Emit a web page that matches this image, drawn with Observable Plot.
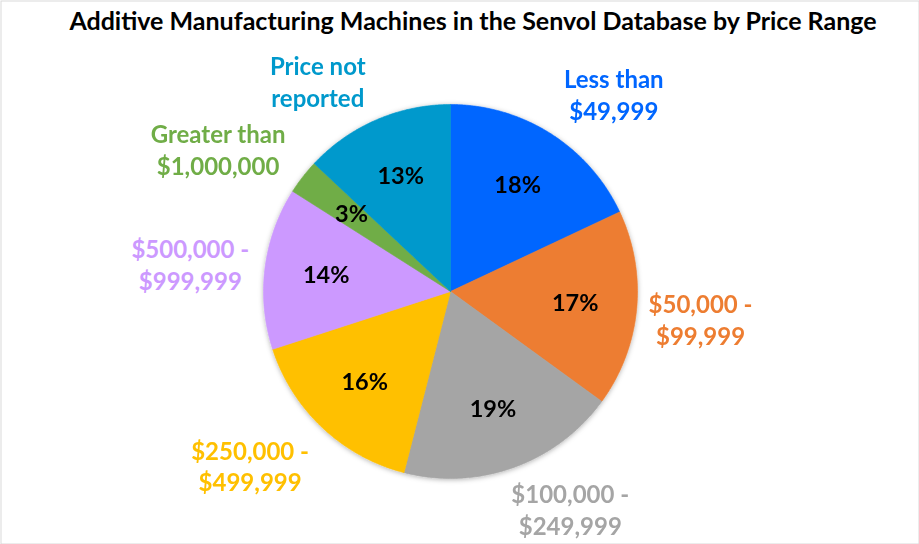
<!DOCTYPE html>
<html>
<head>
<meta charset="utf-8">
<script src="https://cdn.jsdelivr.net/npm/d3@7"></script>
<script src="https://cdn.jsdelivr.net/npm/@observablehq/plot@0.6"></script>
<style>
  html, body { margin: 0; padding: 0; background: #fff; }
</style>
</head>
<body>
<div id="chart"></div>
<script>
// ---- data ----
const title = "Additive Manufacturing Machines in the Senvol Database by Price Range";
const categories = [
  "Less than\n$49,999",
  "$50,000 -\n$99,999",
  "$100,000 -\n$249,999",
  "$250,000 -\n$499,999",
  "$500,000 -\n$999,999",
  "Greater than\n$1,000,000",
  "Price not\nreported"
];
const shares = [18, 17, 19, 16, 14, 3, 13];
const colors = ["#0066FF", "#ED7D31", "#A5A5A5", "#FFC000", "#CC99FF", "#70AD47", "#0099CC"];

// ---- layout ----
const W = 919, H = 544;
const cx = 450, cy = 291, R = 187;
const pctRadius = 0.67;
const outRadius = 1.37;
const labelNudge = [[26, 19], [-5, 3], [33, -24], [-25, -13], [-6, 4], [-30, 14], [-31, 24]];

const rows = categories.map((c, i) => ({category: c, share: shares[i]}));
const arcs = d3.pie().sort(null).value(d => d.share)(rows);
const pt = (a, r) => [cx + r * Math.sin(a), cy - r * Math.cos(a)];

const slices = arcs.map(a => {
  const n = Math.max(2, Math.ceil((a.endAngle - a.startAngle) / (Math.PI / 360)));
  const ring = [[cx, cy]];
  for (let k = 0; k <= n; k++) ring.push(pt(a.startAngle + (a.endAngle - a.startAngle) * k / n, R));
  ring.push([cx, cy]);
  return {category: a.data.category, ring};
});

const pctLabels = arcs.map(a => {
  const m = (a.startAngle + a.endAngle) / 2;
  const [x, y] = pt(m, R * pctRadius);
  return {x, y, text: a.data.share + "%"};
});
const catLabels = arcs.map((a, i) => {
  const m = (a.startAngle + a.endAngle) / 2;
  const [x, y] = pt(m, R * outRadius);
  return {x: x + labelNudge[i][0], y: y + labelNudge[i][1], category: a.data.category};
});

const marks = [Plot.frame({stroke: "#d9d9d9", inset: 0.5})];
slices.forEach((s, i) => {
  marks.push(Plot.line(s.ring.map(([x, y]) => ({x, y})),
    {x: "x", y: "y", fill: colors[i], stroke: colors[i], strokeWidth: 0.6}));
});
marks.push(
  Plot.text(pctLabels, {x: "x", y: "y", text: "text", fill: "#000", fontSize: 23.5, fontWeight: "bold"}),
  Plot.text(catLabels, {x: "x", y: "y", text: "category", fill: "category", fontSize: 24, fontWeight: "bold", lineHeight: 1.33, textAnchor: "middle", lineAnchor: "middle"}),
  Plot.text([title], {frameAnchor: "top", dx: 13, dy: 12, fontSize: 25, fontWeight: "bold", fill: "#000"})
);

const chart = Plot.plot({
  width: W,
  height: H,
  margin: 0,
  x: {domain: [0, W], range: [0, W], axis: null},
  y: {domain: [0, H], range: [0, H], axis: null},
  color: {domain: categories, range: colors},
  style: {fontFamily: "Lato, 'Open Sans', sans-serif"},
  marks
});

// soft drop shadow under the pie, like the original
const ns = "http://www.w3.org/2000/svg";
const defs = document.createElementNS(ns, "defs");
defs.innerHTML = '<filter id="pieShadow" x="-20%" y="-20%" width="140%" height="140%"><feDropShadow dx="0" dy="1" stdDeviation="2.5" flood-color="#000" flood-opacity="0.3"/></filter>';
chart.insertBefore(defs, chart.firstChild);
const lineGroups = Array.from(chart.querySelectorAll('g[aria-label="line"]'));
if (lineGroups.length) {
  const wrap = document.createElementNS(ns, "g");
  wrap.setAttribute("filter", "url(#pieShadow)");
  lineGroups[0].parentNode.insertBefore(wrap, lineGroups[0]);
  lineGroups.forEach(g => wrap.appendChild(g));
}

document.getElementById("chart").appendChild(chart);
</script>
</body>
</html>
